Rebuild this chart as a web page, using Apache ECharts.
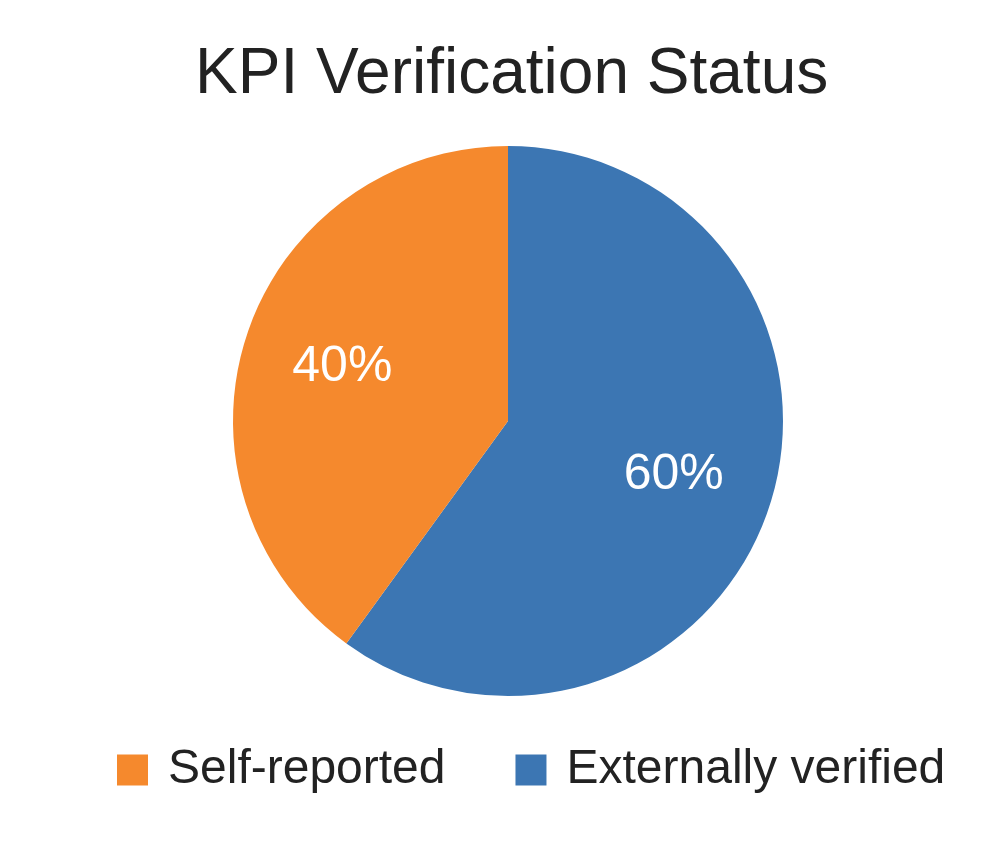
<!DOCTYPE html>
<html>
<head>
<meta charset="utf-8">
<script src="https://cdn.jsdelivr.net/npm/echarts@6/dist/echarts.min.js"></script>
<style>html,body{margin:0;padding:0;background:#fff;}#c{width:994px;height:863px;}</style>
</head>
<body>
<div id="c"></div>
<script>
const categories = ['Externally verified', 'Self-reported'];
const values = [60, 40];
const colors = ['#3C76B3', '#F5892D'];
const legendOrder = ['Self-reported', 'Externally verified'];

const CX = 508, CY = 421, R = 275;
const chart = echarts.init(document.getElementById('c'));
chart.setOption({
  backgroundColor: '#ffffff',
  animation: false,
  title: {
    text: 'KPI Verification Status',
    left: 190,
    top: 38,
    textStyle: { fontFamily: 'Liberation Sans', fontSize: 64, fontWeight: 'normal', color: '#222222' }
  },
  legend: {
    data: legendOrder,
    left: 112,
    top: 741,
    icon: 'rect',
    itemWidth: 31,
    itemHeight: 31,
    itemGap: 70,
    textStyle: { fontFamily: 'Liberation Sans', fontSize: 48, color: '#222222', padding: [0, 0, 0, 15] }
  },
  series: [{
    type: 'pie',
    center: [CX, CY],
    radius: R,
    startAngle: 90,
    clockwise: true,
    data: categories.map((n, i) => ({ name: n, value: values[i], itemStyle: { color: colors[i] } })),
    itemStyle: { borderWidth: 0 },
    label: {
      show: true,
      position: 'inside',
      formatter: '{d}%',
      fontFamily: 'Liberation Sans',
      fontSize: 50,
      color: '#ffffff'
    },
    labelLine: { show: false },
    labelLayout: function (p) {
      const r = p.labelRect;
      const mx = r.x + r.width / 2, my = r.y + r.height / 2;
      const k = 0.24;
      return { dx: (mx - CX) * k, dy: (my - CY) * k };
    }
  }]
});
</script>
</body>
</html>
